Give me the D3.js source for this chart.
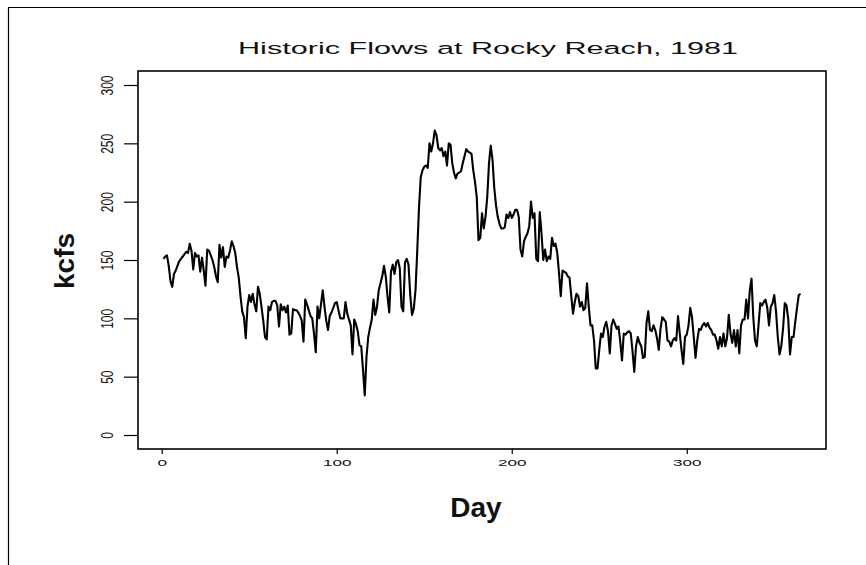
<!DOCTYPE html>
<html>
<head>
<meta charset="utf-8">
<script src="https://cdn.jsdelivr.net/npm/d3@7"></script>
<style>
  body { margin: 0; background: #fff; }
  svg { display: block; }
  text { font-family: "Liberation Sans", Arial, sans-serif; fill: #111; }
</style>
</head>
<body>
<svg id="chart"></svg>
<script>
// daily flow (kcfs), day 1 .. 365
const flows = [
  151,153,154,145,132,127,138,141,145,149,
  151,153,155,157,156,164,158,142,156,153,
  154,140,152,141,128,159,158,154,150,144,
  136,131,163,152,161,144,153,152,158,166,
  162,156,144,135,119,106,101,83,110,120,
  114,121,112,106,127,121,110,98,84,82,
  110,107,114,115,115,111,93,112,107,110,
  105,111,86,87,108,107,107,105,102,98,
  80,116,112,107,102,100,87,71,110,100,
  112,124,110,98,90,102,105,109,113,114,
  107,100,100,100,114,104,99,94,69,99,
  95,89,77,76,56,34,67,84,92,99,
  116,103,110,124,130,136,145,136,119,105,
  140,146,138,148,150,143,110,106,148,151,
  146,120,103,108,124,158,195,221,227,230,
  231,229,250,243,250,261,257,246,244,246,
  239,243,231,250,249,233,225,220,224,225,
  226,233,239,245,243,242,241,227,217,204,
  167,169,190,177,187,204,233,248,236,212,
  197,187,181,177,177,178,189,186,191,186,
  189,193,193,187,159,153,166,170,173,179,
  200,186,190,151,149,191,173,150,159,149,
  153,151,169,162,164,156,139,119,141,140,
  139,136,135,119,104,114,121,119,110,114,
  107,109,130,110,94,94,81,57,57,73,
  87,84,93,97,89,70,94,99,95,91,
  93,80,64,87,86,88,89,87,72,54,
  76,84,79,76,66,67,96,106,90,89,
  94,90,83,73,91,101,99,97,81,80,
  76,81,83,81,102,87,73,61,84,86,
  94,109,101,84,66,81,91,90,94,96,
  93,96,92,90,86,86,81,74,84,76,
  87,76,83,103,87,79,90,76,90,70,
  94,99,99,116,100,124,134,101,81,76,
  94,113,111,114,116,109,94,110,113,120,
  106,84,69,76,91,113,111,99,69,84,
  84,97,109,120,121
];
const xTicks = [0, 100, 200, 300];
const yTicks = [0, 50, 100, 150, 200, 250, 300];
const title = 'Historic Flows at Rocky Reach, 1981';
const xTitle = 'Day';
const yTitle = 'kcfs';

const w = 866, h = 565;
const box = {left: 138, right: 826, top: 71, bottom: 449};

const svg = d3.select('#chart').attr('width', w).attr('height', h);

// outer frame (only top and left edges show)
svg.append('path')
  .attr('d', `M8.5,${h} V7.5 H${w}`)
  .attr('fill', 'none').attr('stroke', '#000').attr('stroke-width', 1.2);

// S-style 4% padding on both axes
const n = flows.length;
const xpad = (n - 1) * 0.04;
const xScale = d3.scaleLinear().domain([1 - xpad, n + xpad]).range([box.left, box.right]);
const yScale = d3.scaleLinear().domain([-12, 312]).range([box.bottom, box.top]);

// plot box
svg.append('rect')
  .attr('x', box.left).attr('y', box.top)
  .attr('width', box.right - box.left).attr('height', box.bottom - box.top)
  .attr('fill', 'none').attr('stroke', '#000').attr('stroke-width', 1.6);

// y axis
const yAxis = d3.axisLeft(yScale).tickValues(yTicks).tickSize(14).tickFormat(d3.format('d'));
const gy = svg.append('g').attr('transform', `translate(${box.left},0)`).call(yAxis);
gy.select('.domain').remove();
gy.selectAll('.tick line').attr('stroke', '#000').attr('stroke-width', 1.2);
gy.selectAll('.tick text')
  .attr('x', 0).attr('dy', 0)
  .attr('text-anchor', 'middle')
  .attr('transform', 'translate(-25,0) rotate(-90) scale(1,1.4)')
  .style('font-size', '12px');

// x axis
const xAxis = d3.axisBottom(xScale).tickValues(xTicks).tickSize(5).tickFormat(d3.format('d'));
const gx = svg.append('g').attr('transform', `translate(0,${box.bottom})`).call(xAxis);
gx.select('.domain').remove();
gx.selectAll('.tick line').attr('stroke', '#000').attr('stroke-width', 1.2);
gx.selectAll('.tick text')
  .attr('y', 0).attr('dy', 0)
  .attr('transform', 'translate(0,17) scale(1.9,1)')
  .style('font-size', '9px');

// series line
const line = d3.line()
  .x((d, i) => xScale(i + 1))
  .y(d => yScale(d));
svg.append('path')
  .datum(flows)
  .attr('d', line)
  .attr('fill', 'none')
  .attr('stroke', '#000')
  .attr('stroke-width', 2.1)
  .attr('stroke-linejoin', 'round');

// titles
svg.append('text')
  .attr('transform', 'translate(488,54) scale(1.8,1)')
  .attr('text-anchor', 'middle')
  .style('font-size', '17px')
  .text(title);

svg.append('text')
  .attr('x', 476).attr('y', 517)
  .attr('text-anchor', 'middle')
  .style('font-size', '28px').style('font-weight', 'bold')
  .text(xTitle);

svg.append('text')
  .attr('transform', `translate(74,${(box.top + box.bottom) / 2 + 1}) rotate(-90)`)
  .attr('text-anchor', 'middle')
  .style('font-size', '28px').style('font-weight', 'bold')
  .text(yTitle);
</script>
</body>
</html>
